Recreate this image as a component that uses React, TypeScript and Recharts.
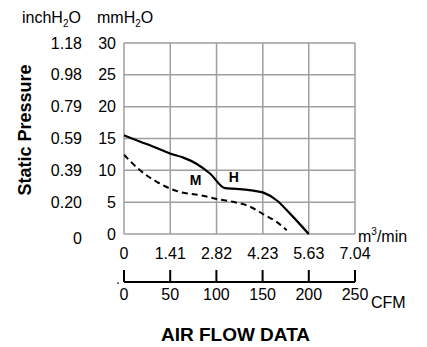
import React from 'react';
import { LineChart, Line, XAxis, YAxis, CartesianGrid, ReferenceDot } from 'recharts';

// axis ticks
const flowM3 = [0, 1.41, 2.82, 4.23, 5.63, 7.04];
const flowCfm = [0, 50, 100, 150, 200, 250];
const pressureMm = [0, 5, 10, 15, 20, 25, 30];
const pressureInch = ['0', '0.20', '0.39', '0.59', '0.79', '0.98', '1.18'];

// H speed (solid)
const hFlow = [0, 0.5, 1.0, 1.42, 1.81, 2.22, 2.62, 3.08, 3.43, 3.94, 4.25, 4.65, 5.06, 5.63];
const hPressure = [15.5, 14.5, 13.5, 12.6, 12.0, 11.0, 9.5, 7.2, 7.1, 6.8, 6.5, 5.3, 3.2, 0];

// M speed (dashed)
const mFlow = [0, 0.49, 1.0, 1.42, 1.71, 2.32, 2.83, 3.33, 3.84, 4.25, 4.65, 4.96];
const mPressure = [12.45, 10.0, 8.2, 7.1, 6.6, 6.1, 5.5, 5.05, 4.3, 3.1, 1.9, 0.6];

const hData = hFlow.map((x, i) => ({ x, p: hPressure[i] }));
const mData = mFlow.map((x, i) => ({ x, p: mPressure[i] }));
const cfmData = flowCfm.map((c) => ({ c }));

const font = 'Liberation Sans, Arial, sans-serif';
const gridColor = '#9e9e9e';

const PressureTick = (props: any) => {
  const { x, y, payload } = props;
  const i = pressureMm.indexOf(payload.value);
  return (
    <g fontFamily={font} fontSize={16} fill="#000">
      <text x={x} y={y} dy={5.5} textAnchor="end">{payload.value}</text>
      <text x={x - 34} y={y} dy={i === 0 ? 10 : 5.5} textAnchor="end">{pressureInch[i]}</text>
    </g>
  );
};

const CfmTick = (props: any) => {
  const { x, y, payload } = props;
  return (
    <g>
      <line x1={x} x2={x} y1={y} y2={y - 12} stroke="#000" strokeWidth={2} />
      <text x={x} y={y + 18} textAnchor="middle" fontFamily={font} fontSize={16} fill="#000">
        {payload.value}
      </text>
    </g>
  );
};

const App = () => {
  return (
    <div style={{ position: 'absolute', left: 0, top: 0, width: 427, height: 347, background: '#fff' }}>
      <LineChart width={427} height={347} data={cfmData} margin={{ top: 43, right: 72, bottom: 0, left: 0 }}
        style={{ fontFamily: font }}>
        <CartesianGrid xAxisId="a_m3" stroke={gridColor} strokeWidth={1.5} />
        <XAxis xAxisId="a_m3" type="number" dataKey="x" domain={[0, 7.04]} ticks={flowM3}
          height={48} axisLine={false} tickLine={false} tickMargin={8}
          tick={{ fill: '#000', fontSize: 16 }} allowDataOverflow />
        <XAxis xAxisId="b_cfm" type="number" dataKey="c" domain={[0, 250]} ticks={flowCfm}
          height={65} axisLine={{ stroke: '#000', strokeWidth: 2 }} tickLine={false}
          tickSize={0} tickMargin={0} tick={<CfmTick />} allowDataOverflow />
        <YAxis type="number" domain={[0, 30]} ticks={pressureMm} width={124}
          axisLine={false} tickLine={false} tick={<PressureTick />} />
        <Line xAxisId="a_m3" data={mData} dataKey="p" type="monotone" stroke="#000"
          strokeWidth={2} strokeDasharray="6 4" dot={false} isAnimationActive={false} />
        <Line xAxisId="a_m3" data={hData} dataKey="p" type="monotone" stroke="#000"
          strokeWidth={2.2} dot={false} isAnimationActive={false} />
        <ReferenceDot xAxisId="a_m3" x={2.18} y={8.44} r={1} fill="none" stroke="none"
          label={{ value: 'M', position: 'center', fontSize: 14, fontWeight: 'bold', fill: '#000' }} />
        <ReferenceDot xAxisId="a_m3" x={3.35} y={8.98} r={1} fill="none" stroke="none"
          label={{ value: 'H', position: 'center', fontSize: 14, fontWeight: 'bold', fill: '#000' }} />
      </LineChart>
      <svg width={427} height={347} style={{ position: 'absolute', left: 0, top: 0, pointerEvents: 'none' }}
        fontFamily={font} fill="#000">
        <text x={22} y={23} fontSize={16}>
          <tspan>inchH</tspan><tspan fontSize={10} dy={4}>2</tspan><tspan dy={-4}>O</tspan>
        </text>
        <text x={97} y={23} fontSize={16}>
          <tspan>mmH</tspan><tspan fontSize={10} dy={4}>2</tspan><tspan dy={-4}>O</tspan>
        </text>
        <text x={31} y={130} fontSize={18} fontWeight="bold" textAnchor="middle" transform="rotate(-90 31 130)">
          Static Pressure
        </text>
        <text x={358} y={242} fontSize={16}>
          <tspan>m</tspan><tspan fontSize={10} dy={-7}>3</tspan><tspan dy={7}>/min</tspan>
        </text>
        <text x={116} y={284} fontSize={14}>.</text>
        <text x={371} y={308} fontSize={16}>CFM</text>
        <text x={235.5} y={341} fontSize={19} fontWeight="bold" textAnchor="middle">AIR FLOW DATA</text>
      </svg>
    </div>
  );
};

export default App;
